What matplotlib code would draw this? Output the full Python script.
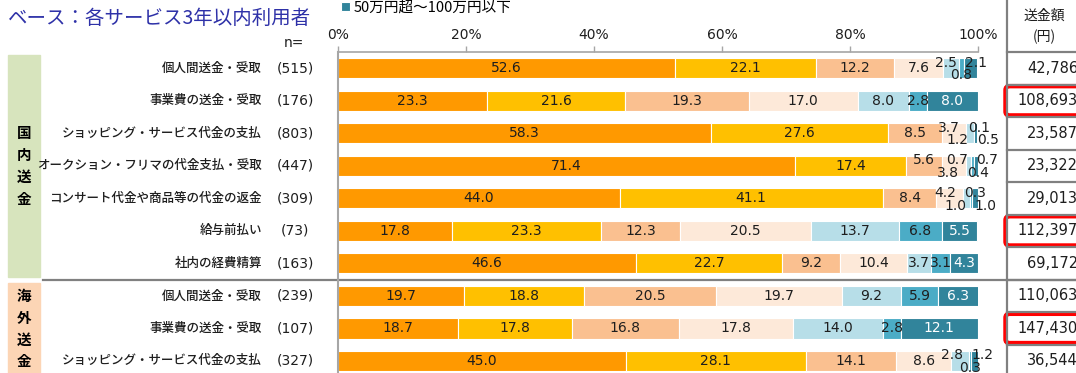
import matplotlib.pyplot as plt
from matplotlib.lines import Line2D
from matplotlib.patches import Rectangle, FancyBboxPatch
from matplotlib.transforms import blended_transform_factory

plt.rcParams['font.family'] = ['DejaVu Sans', 'Noto Sans CJK JP']
JP = ['Noto Sans CJK JP', 'DejaVu Sans']

# services (domestic first, then overseas) with respondent counts
services = ['個人間送金・受取', '事業費の送金・受取', 'ショッピング・サービス代金の支払',
            'オークション・フリマの代金支払・受取', 'コンサート代金や商品等の代金の返金',
            '給与前払い', '社内の経費精算',
            '個人間送金・受取', '事業費の送金・受取', 'ショッピング・サービス代金の支払']
n_counts = [515, 176, 803, 447, 309, 73, 163, 239, 107, 327]
amounts = [42786, 108693, 23587, 23322, 29013, 112397, 69172, 110063, 147430, 36544]

# share of each remittance-amount band (%), smallest band first
band_1 = [52.6, 23.3, 58.3, 71.4, 44.0, 17.8, 46.6, 19.7, 18.7, 45.0]
band_2 = [22.1, 21.6, 27.6, 17.4, 41.1, 23.3, 22.7, 18.8, 17.8, 28.1]
band_3 = [12.2, 19.3, 8.5, 5.6, 8.4, 12.3, 9.2, 20.5, 16.8, 14.1]
band_4 = [7.6, 17.0, 3.7, 3.8, 4.2, 20.5, 10.4, 19.7, 17.8, 8.6]
band_5 = [2.5, 8.0, 1.2, 0.7, 1.0, 13.7, 3.7, 9.2, 14.0, 2.8]
band_6 = [0.8, 2.8, 0.1, 0.4, 0.3, 6.8, 3.1, 5.9, 2.8, 0.3]
band_7 = [2.1, 8.0, 0.5, 0.7, 1.0, 5.5, 4.3, 6.3, 12.1, 1.2]
bands = [band_1, band_2, band_3, band_4, band_5, band_6, band_7]
top_band_label = '50万円超～100万円以下'

colors = ['#FF9900', '#FFC000', '#FAC090', '#FDE9D9', '#B7DEE8', '#4BACC6', '#31849B']

# rows whose average amount is boxed in red
highlight = [1, 5, 8]
# index of the first segment whose label is staggered above/below the bar
stagger_from = [4, None, 3, 2, 3, None, None, None, None, 4]

W, H = 1076, 373
fig = plt.figure(figsize=(W / 100, H / 100), dpi=100)
ax = fig.add_axes([338 / W, 0, 640 / W, 321 / H])
rows = list(range(len(services)))

lefts = [0.0] * len(rows)
containers = []
for vals, col in zip(bands, colors):
    bc = ax.barh(rows, vals, left=lefts, height=0.62, color=col,
                 edgecolor='white', linewidth=0.8)
    containers.append(bc)
    lefts = [l + v for l, v in zip(lefts, vals)]


def spread(xs, gap):
    # push neighbouring labels apart, keeping each group centred on its marks
    groups = [[x] for x in sorted(xs)]

    def place(g):
        c = sum(g) / len(g)
        return [c + (k - (len(g) - 1) / 2) * gap for k in range(len(g))]

    merged = True
    while merged:
        merged = False
        for i in range(len(groups) - 1):
            if place(groups[i])[-1] + gap > place(groups[i + 1])[0]:
                groups[i] = groups[i] + groups.pop(i + 1)
                merged = True
                break
    out = []
    for g in groups:
        out += place(g)
    return out


for r in rows:
    start = 0.0
    up, down = [], []
    for b, vals in enumerate(bands):
        v = vals[r]
        mid = start + v / 2
        start += v
        if stagger_from[r] is not None and b >= stagger_from[r]:
            (up if (b - stagger_from[r]) % 2 == 0 else down).append((mid, v))
            continue
        tc = 'white' if b == 6 else '#1E1E1E'
        ax.text(mid, r, f'{v:.1f}', ha='center', va='center', fontsize=10, color=tc)
    for group, dy in ((up, -0.17), (down, 0.22)):
        if not group:
            continue
        xs = spread([m for m, _ in group], 4.7)
        for x, (_, v) in zip(xs, group):
            ax.text(x, r + dy, f'{v:.1f}', ha='center', va='center',
                    fontsize=10, color='#1E1E1E')

ax.set_xlim(0, 100)
ax.set_ylim(9.37, -0.5)
ax.xaxis.tick_top()
ax.set_xticks([0, 20, 40, 60, 80, 100])
ax.set_xticklabels(['0%', '20%', '40%', '60%', '80%', '100%'])
ax.tick_params(axis='x', direction='out', length=4, width=1, color='#A6A6A6',
               labelsize=10, labelcolor='#1E1E1E', pad=3)
ax.set_yticks([])
for s in ('right', 'bottom'):
    ax.spines[s].set_visible(False)
ax.spines['top'].set_color('#A6A6A6')
ax.spines['left'].set_color('#A6A6A6')
ax.spines['top'].set_linewidth(1.2)
ax.spines['left'].set_linewidth(1.5)

# row labels to the left of the bars
lab = blended_transform_factory(fig.transFigure, ax.transData)
for r, name, n in zip(rows, services, n_counts):
    ax.text(262 / W, r, name, transform=lab, ha='right', va='center',
            fontsize=9, family=JP, fontweight='medium', color='#1E1E1E')
    ax.text(295 / W, r, f'({n})', transform=lab, ha='center', va='center',
            fontsize=10, color='#1E1E1E')
fig.text(304 / W, 1 - 43 / H, 'n=', ha='right', va='center', fontsize=10, color='#1E1E1E')

# group bands on the far left
ax.add_patch(Rectangle((8 / W, -0.41), 32 / W, 6.82, transform=lab,
                       color='#D7E4BD', clip_on=False))
ax.add_patch(Rectangle((8 / W, 6.59), 32 / W, 3.2, transform=lab,
                       color='#FCD5B5', clip_on=False))
ax.text(24 / W, 3.0, '国\n内\n送\n金', transform=lab, ha='center', va='center',
        fontsize=10.5, fontweight='bold', family=JP, linespacing=1.45)
ax.text(24 / W, 8.0, '海\n外\n送\n金', transform=lab, ha='center', va='center',
        fontsize=10.5, fontweight='bold', family=JP, linespacing=1.45)
ax.plot([43 / W, 1], [6.5, 6.5], transform=lab, color='#808080', lw=1.6, clip_on=False)

# average amount column
tab = fig.add_axes([1007 / W, 0, 69 / W, 321 / H], sharey=ax)
tab.set_xlim(0, 69)
tab.axis('off')
fig.add_artist(Line2D([1007 / W, 1007 / W], [0, 1], color='#808080', lw=1.6))
for r in rows:
    tab.plot([0, 69], [r - 0.5, r - 0.5], color='#808080', lw=1.6, clip_on=False)
    tab.text(71, r, f'{amounts[r]:,}', ha='right', va='center', fontsize=10.5,
             color='#1E1E1E', clip_on=False)
for r in highlight:
    tab.add_patch(FancyBboxPatch((-1.5, r - 0.45), 140, 0.9,
                                 boxstyle='round,pad=0,rounding_size=4',
                                 mutation_aspect=1 / 32.5, fill=False,
                                 edgecolor='#FF0000', lw=3.2, clip_on=False))
fig.text(1044 / W, 1 - 16 / H, '送金額', ha='center', va='center', fontsize=10,
         family=JP, color='#1E1E1E')
fig.text(1044 / W, 1 - 37 / H, '(円)', ha='center', va='center', fontsize=10,
         family=JP, color='#1E1E1E')

# title and the visible legend entry
fig.text(8 / W, 1 - 18 / H, 'ベース：各サービス3年以内利用者', ha='left', va='center',
         fontsize=14, family=JP, color='#2E31A8')
fig.legend(handles=[containers[-1]], labels=[top_band_label], loc='center left',
           bbox_to_anchor=(341 / W, 1 - 8 / H), frameon=False, handlelength=0.6,
           handleheight=0.6, handletextpad=0.3, borderpad=0, borderaxespad=0,
           prop={'family': JP, 'size': 10.5})

fig.savefig('out.png', dpi=100)
